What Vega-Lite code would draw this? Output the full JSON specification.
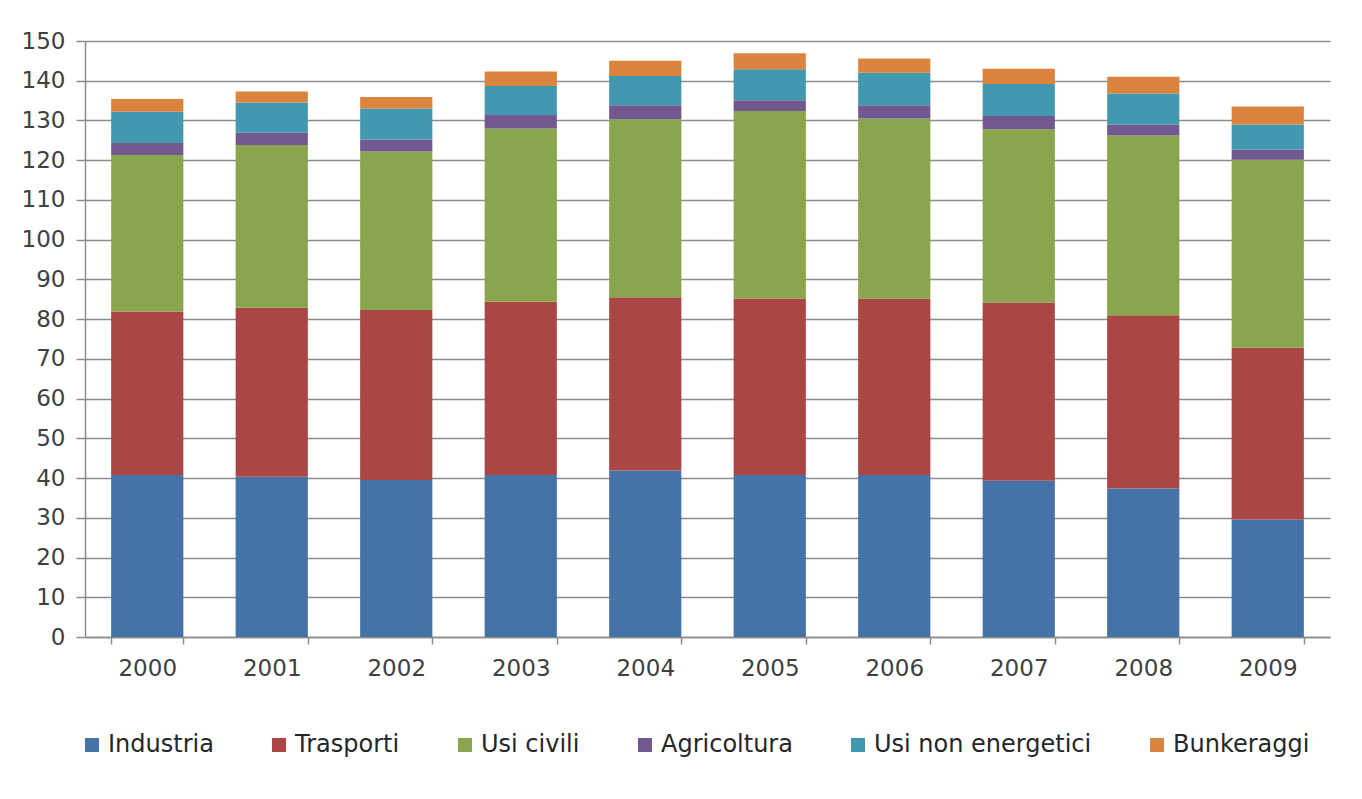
{
  "$schema": "https://vega.github.io/schema/vega-lite/v6.json",
  "width": 1245,
  "height": 596,
  "autosize": {"type": "none"},
  "padding": {"left": 85, "top": 41, "right": 32, "bottom": 162},
  "background": "#ffffff",
  "data": {
    "values": [
      {"anno": "2000", "settore": "Industria", "ordine": 1, "valore": 40.8},
      {"anno": "2000", "settore": "Trasporti", "ordine": 2, "valore": 41.1},
      {"anno": "2000", "settore": "Usi civili", "ordine": 3, "valore": 39.4},
      {"anno": "2000", "settore": "Agricoltura", "ordine": 4, "valore": 3.0},
      {"anno": "2000", "settore": "Usi non energetici", "ordine": 5, "valore": 7.9},
      {"anno": "2000", "settore": "Bunkeraggi", "ordine": 6, "valore": 3.2},
      {"anno": "2001", "settore": "Industria", "ordine": 1, "valore": 40.3},
      {"anno": "2001", "settore": "Trasporti", "ordine": 2, "valore": 42.6},
      {"anno": "2001", "settore": "Usi civili", "ordine": 3, "valore": 40.9},
      {"anno": "2001", "settore": "Agricoltura", "ordine": 4, "valore": 3.1},
      {"anno": "2001", "settore": "Usi non energetici", "ordine": 5, "valore": 7.6},
      {"anno": "2001", "settore": "Bunkeraggi", "ordine": 6, "valore": 2.8},
      {"anno": "2002", "settore": "Industria", "ordine": 1, "valore": 39.5},
      {"anno": "2002", "settore": "Trasporti", "ordine": 2, "valore": 42.8},
      {"anno": "2002", "settore": "Usi civili", "ordine": 3, "valore": 39.9},
      {"anno": "2002", "settore": "Agricoltura", "ordine": 4, "valore": 3.0},
      {"anno": "2002", "settore": "Usi non energetici", "ordine": 5, "valore": 7.8},
      {"anno": "2002", "settore": "Bunkeraggi", "ordine": 6, "valore": 2.9},
      {"anno": "2003", "settore": "Industria", "ordine": 1, "valore": 40.8},
      {"anno": "2003", "settore": "Trasporti", "ordine": 2, "valore": 43.6},
      {"anno": "2003", "settore": "Usi civili", "ordine": 3, "valore": 43.6},
      {"anno": "2003", "settore": "Agricoltura", "ordine": 4, "valore": 3.4},
      {"anno": "2003", "settore": "Usi non energetici", "ordine": 5, "valore": 7.3},
      {"anno": "2003", "settore": "Bunkeraggi", "ordine": 6, "valore": 3.6},
      {"anno": "2004", "settore": "Industria", "ordine": 1, "valore": 41.9},
      {"anno": "2004", "settore": "Trasporti", "ordine": 2, "valore": 43.6},
      {"anno": "2004", "settore": "Usi civili", "ordine": 3, "valore": 44.8},
      {"anno": "2004", "settore": "Agricoltura", "ordine": 4, "valore": 3.5},
      {"anno": "2004", "settore": "Usi non energetici", "ordine": 5, "valore": 7.4},
      {"anno": "2004", "settore": "Bunkeraggi", "ordine": 6, "valore": 3.8},
      {"anno": "2005", "settore": "Industria", "ordine": 1, "valore": 40.8},
      {"anno": "2005", "settore": "Trasporti", "ordine": 2, "valore": 44.4},
      {"anno": "2005", "settore": "Usi civili", "ordine": 3, "valore": 47.2},
      {"anno": "2005", "settore": "Agricoltura", "ordine": 4, "valore": 2.7},
      {"anno": "2005", "settore": "Usi non energetici", "ordine": 5, "valore": 7.8},
      {"anno": "2005", "settore": "Bunkeraggi", "ordine": 6, "valore": 4.0},
      {"anno": "2006", "settore": "Industria", "ordine": 1, "valore": 40.8},
      {"anno": "2006", "settore": "Trasporti", "ordine": 2, "valore": 44.3},
      {"anno": "2006", "settore": "Usi civili", "ordine": 3, "valore": 45.4},
      {"anno": "2006", "settore": "Agricoltura", "ordine": 4, "valore": 3.3},
      {"anno": "2006", "settore": "Usi non energetici", "ordine": 5, "valore": 8.2},
      {"anno": "2006", "settore": "Bunkeraggi", "ordine": 6, "valore": 3.6},
      {"anno": "2007", "settore": "Industria", "ordine": 1, "valore": 39.3},
      {"anno": "2007", "settore": "Trasporti", "ordine": 2, "valore": 44.9},
      {"anno": "2007", "settore": "Usi civili", "ordine": 3, "valore": 43.6},
      {"anno": "2007", "settore": "Agricoltura", "ordine": 4, "valore": 3.3},
      {"anno": "2007", "settore": "Usi non energetici", "ordine": 5, "valore": 8.1},
      {"anno": "2007", "settore": "Bunkeraggi", "ordine": 6, "valore": 3.8},
      {"anno": "2008", "settore": "Industria", "ordine": 1, "valore": 37.4},
      {"anno": "2008", "settore": "Trasporti", "ordine": 2, "valore": 43.6},
      {"anno": "2008", "settore": "Usi civili", "ordine": 3, "valore": 45.2},
      {"anno": "2008", "settore": "Agricoltura", "ordine": 4, "valore": 2.8},
      {"anno": "2008", "settore": "Usi non energetici", "ordine": 5, "valore": 7.8},
      {"anno": "2008", "settore": "Bunkeraggi", "ordine": 6, "valore": 4.2},
      {"anno": "2009", "settore": "Industria", "ordine": 1, "valore": 29.6},
      {"anno": "2009", "settore": "Trasporti", "ordine": 2, "valore": 43.2},
      {"anno": "2009", "settore": "Usi civili", "ordine": 3, "valore": 47.3},
      {"anno": "2009", "settore": "Agricoltura", "ordine": 4, "valore": 2.5},
      {"anno": "2009", "settore": "Usi non energetici", "ordine": 5, "valore": 6.4},
      {"anno": "2009", "settore": "Bunkeraggi", "ordine": 6, "valore": 4.5}
    ]
  },
  "mark": {"type": "bar"},
  "encoding": {
    "x": {
      "field": "anno",
      "type": "ordinal",
      "scale": {"paddingInner": 0.42, "paddingOuter": 0.21},
      "axis": {
        "title": null,
        "labelAngle": 0,
        "tickBand": "extent",
        "tickSize": 7,
        "tickColor": "#8c8c8c",
        "tickWidth": 1.5,
        "domainColor": "#8c8c8c",
        "domainWidth": 1.5,
        "labelPadding": 13,
        "labelFont": "DejaVu Sans",
        "labelFontSize": 23,
        "labelColor": "#404040",
        "grid": false
      }
    },
    "y": {
      "field": "valore",
      "type": "quantitative",
      "aggregate": "sum",
      "stack": "zero",
      "scale": {"domain": [0, 150], "nice": false},
      "axis": {
        "title": null,
        "values": [0, 10, 20, 30, 40, 50, 60, 70, 80, 90, 100, 110, 120, 130, 140, 150],
        "tickSize": 9,
        "tickColor": "#8c8c8c",
        "tickWidth": 1.5,
        "domainColor": "#8c8c8c",
        "domainWidth": 1.5,
        "labelPadding": 11,
        "labelFont": "DejaVu Sans",
        "labelFontSize": 23,
        "labelColor": "#404040",
        "grid": true,
        "gridColor": "#8c8c8c",
        "gridWidth": 1.5
      }
    },
    "color": {
      "field": "settore",
      "type": "nominal",
      "sort": ["Industria", "Trasporti", "Usi civili", "Agricoltura", "Usi non energetici", "Bunkeraggi"],
      "scale": {
        "domain": ["Industria", "Trasporti", "Usi civili", "Agricoltura", "Usi non energetici", "Bunkeraggi"],
        "range": ["#4572a7", "#aa4643", "#89a54e", "#71588f", "#4198af", "#db843d"]
      },
      "legend": {
        "title": null,
        "orient": "none",
        "direction": "horizontal",
        "columns": 6,
        "legendX": -5,
        "legendY": 692,
        "symbolType": "square",
        "symbolSize": 196,
        "symbolStrokeWidth": 0,
        "labelOffset": 4,
        "columnPadding": 53,
        "labelFont": "DejaVu Sans",
        "labelFontSize": 24,
        "labelColor": "#262626",
        "labelLimit": 400
      }
    },
    "order": {"field": "ordine", "type": "quantitative"}
  },
  "config": {
    "view": {"stroke": null}
  }
}
